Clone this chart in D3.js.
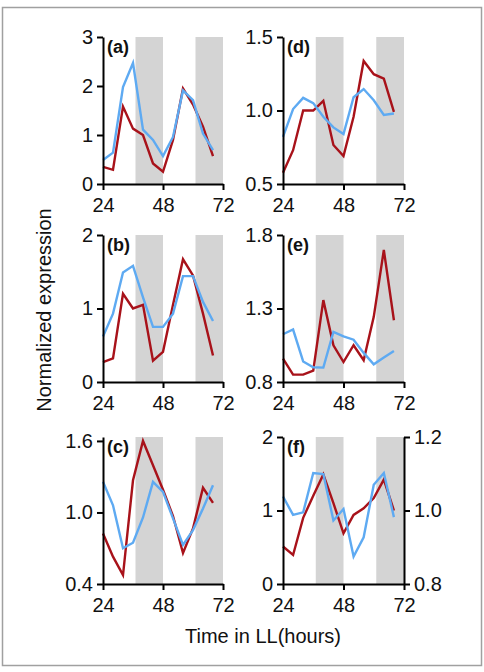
<!DOCTYPE html>
<html><head><meta charset="utf-8">
<script src="https://cdn.jsdelivr.net/npm/d3@7"></script>
<style>body{margin:0;background:#fff}svg{display:block}text{font-family:"Liberation Sans",Arial,sans-serif}</style>
</head><body><svg id="c" width="484" height="672"></svg>
<script>
const hours = [24,28,32,36,40,44,48,52,56,60,64,68];
const xTicks = [24,48,72];
const nightBands = [[37,48],[61,72]];
const panelLabels = ["(a)","(b)","(c)","(d)","(e)","(f)"];
const redA = [0.35,0.29,1.58,1.13,1.0,0.42,0.25,0.9,1.95,1.62,1.17,0.57];
const blueA = [0.49,0.64,1.98,2.47,1.11,0.9,0.57,0.96,1.91,1.71,1.03,0.69];
const redB = [0.27,0.32,1.2,1.0,1.05,0.29,0.41,1.05,1.67,1.45,0.93,0.36];
const blueB = [0.62,0.93,1.49,1.58,1.15,0.75,0.75,0.93,1.44,1.44,1.09,0.83];
const redC = [0.824,0.629,0.475,1.27,1.6,1.396,1.19,0.97,0.66,0.866,1.207,1.08];
const blueC = [1.257,1.06,0.70,0.746,0.958,1.257,1.173,0.95,0.727,0.852,1.034,1.229];
const redD = [0.577,0.73,1.0,1.0,1.066,0.765,0.69,0.957,1.337,1.247,1.217,0.99];
const blueD = [0.82,1.01,1.086,1.05,0.957,0.885,0.84,1.09,1.146,1.07,0.97,0.98];
const redE = [0.959,0.85,0.85,0.877,1.357,1.05,0.936,1.05,0.948,1.243,1.698,1.22];
const blueE = [1.125,1.157,0.94,0.9,0.898,1.14,1.11,1.088,0.998,0.92,0.966,1.011];
const redF = [0.51,0.395,0.9,1.2,1.49,1.1,0.69,0.94,1.03,1.17,1.42,1.0];
const blueF = [1.038,0.988,0.995,1.102,1.099,0.973,1.004,0.875,0.927,1.07,1.102,0.982];
const yTicksA = [0,1,2,3], yTicksB=[0,1,2], yTicksC=[0.4,1.0,1.6];
const yTicksD = [0.5,1.0,1.5], yTicksE=[0.8,1.3,1.8], yTicksF=[0,1,2], yTicksF2=[0.8,1.0,1.2];

const RED = "#a8121a", BLUE = "#5eaaf2", GRAY = "#d4d4d4";
const svg = d3.select("#c");
svg.append("rect").attr("x",2.5).attr("y",7.5).attr("width",479).attr("height",658)
  .attr("fill","none").attr("stroke","#a0a0a0").attr("stroke-width",1.5);

const cols = [[103,223],[283,404]];
const rows = [[37,184],[235,382],[437,584]];
const panels = [
 {col:0,row:0,red:redA,blue:blueA,dom:[0,3],ticks:yTicksA,fmt:d3.format("d")},
 {col:0,row:1,red:redB,blue:blueB,dom:[0,2],ticks:yTicksB,fmt:d3.format("d")},
 {col:0,row:2,red:redC,blue:blueC,dom:[0.4,1.633],ticks:yTicksC,fmt:d3.format(".1f")},
 {col:1,row:0,red:redD,blue:blueD,dom:[0.5,1.5],ticks:yTicksD,fmt:d3.format(".1f")},
 {col:1,row:1,red:redE,blue:blueE,dom:[0.8,1.8],ticks:yTicksE,fmt:d3.format(".1f")},
 {col:1,row:2,red:redF,blue:blueF,dom:[0,2],ticks:yTicksF,fmt:d3.format("d"),dom2:[0.8,1.2],ticks2:yTicksF2,fmt2:d3.format(".1f")}
];
panels.forEach((p,i)=>{
  const x = d3.scaleLinear().domain([24,72]).range(cols[p.col]);
  const y = d3.scaleLinear().domain(p.dom).range([rows[p.row][1],rows[p.row][0]]);
  const y2 = p.dom2 ? d3.scaleLinear().domain(p.dom2).range([rows[p.row][1],rows[p.row][0]]) : y;
  const g = svg.append("g");
  nightBands.forEach(b=>{
    g.append("rect").attr("x",x(b[0])).attr("width",x(b[1])-x(b[0]))
     .attr("y",rows[p.row][0]).attr("height",rows[p.row][1]-rows[p.row][0]).attr("fill",GRAY);
  });
  const lineL = d3.line().x((d,j)=>x(hours[j])).y(d=>y(d));
  const lineR = d3.line().x((d,j)=>x(hours[j])).y(d=>y2(d));
  g.append("path").datum(p.red).attr("d",lineL).attr("fill","none").attr("stroke",RED).attr("stroke-width",2.4).attr("stroke-linejoin","miter");
  g.append("path").datum(p.blue).attr("d",lineR).attr("fill","none").attr("stroke",BLUE).attr("stroke-width",2.4).attr("stroke-linejoin","miter");
  const ax = g.append("g").attr("transform",`translate(0,${rows[p.row][1]})`)
    .call(d3.axisBottom(x).tickValues(xTicks).tickSize(6).tickSizeOuter(0).tickPadding(8));
  const ay = g.append("g").attr("transform",`translate(${cols[p.col][0]},0)`)
    .call(d3.axisLeft(y).tickValues(p.ticks).tickFormat(p.fmt).tickSize(6).tickSizeOuter(0).tickPadding(4));
  const axes=[ax,ay];
  if(p.dom2){
    const ay2 = g.append("g").attr("transform",`translate(${cols[p.col][1]},0)`)
      .call(d3.axisRight(y2).tickValues(p.ticks2).tickFormat(p.fmt2).tickSize(6).tickSizeOuter(0).tickPadding(4));
    axes.push(ay2);
  }
  axes.forEach(a=>{
    a.select(".domain").attr("stroke","#000").attr("stroke-width",2);
    a.selectAll(".tick line").attr("stroke","#000").attr("stroke-width",2);
    a.selectAll("text").attr("font-size",20).attr("fill","#111").style("font-family","'Liberation Sans',Arial,sans-serif");
  });
  g.append("text").attr("x",cols[p.col][0]+4).attr("y",rows[p.row][0]+16)
   .attr("font-size",18).attr("font-weight","bold").attr("fill","#111").text(panelLabels[i]);
});
svg.append("text").attr("x",263).attr("y",643).attr("text-anchor","middle").attr("font-size",20).attr("fill","#111").text("Time in LL(hours)");
svg.append("text").attr("transform","translate(51,310) rotate(-90)").attr("text-anchor","middle").attr("font-size",20).attr("fill","#111").text("Normalized expression");
</script></body></html>
